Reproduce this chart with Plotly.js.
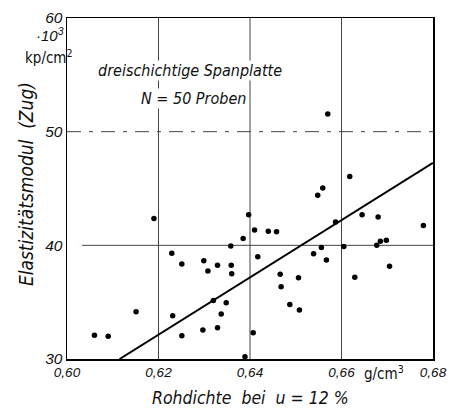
<!DOCTYPE html>
<html><head><meta charset="utf-8">
<script src="https://cdn.plot.ly/plotly-3.0.1.min.js"></script>
<style>html,body{margin:0;padding:0;background:#fff}#chart{width:450px;height:410px}</style>
</head><body><div id="chart"></div>
<script>
// Rohdichte (g/cm3) of the samples
const density = [0.6060,0.6090,0.6151,0.6190,0.6229,0.6231,0.6251,0.6251,0.6297,0.6299,
  0.6308,0.6320,0.6329,0.6329,0.6337,0.6348,0.6358,0.6359,0.6360,0.6385,
  0.6389,0.6397,0.6407,0.6410,0.6417,0.6440,0.6458,0.6466,0.6468,0.6487,
  0.6506,0.6508,0.6539,0.6548,0.6556,0.6559,0.6567,0.6570,0.6587,0.6605,
  0.6618,0.6629,0.6645,0.6677,0.6680,0.6685,0.6698,0.6705,0.6779];
// Elastizitätsmodul (10^3 kp/cm2)
const modulus = [32.1,32.0,34.15,42.35,39.3,33.8,38.35,32.05,32.55,38.65,
  37.75,35.15,38.25,32.75,33.95,34.95,39.95,38.25,37.5,40.6,
  30.2,42.7,32.3,41.35,39.0,41.25,41.2,37.45,36.35,34.8,
  37.15,34.3,39.25,44.4,39.8,45.05,38.7,51.55,42.05,39.9,
  46.05,37.2,42.7,40.0,42.5,40.35,40.45,38.15,41.75];
// regression line end points
const fitX = [0.6115, 0.68];
const fitY = [30, 47.25];
// ticks
const xTickVals = [0.60,0.62,0.64,0.66,0.68];
const xTickText = ["0,60","0,62","0,64","0,66","0,68"];
const yTickVals = [30,40,50,60];
const yTickText = ["30","40","50","60"];
const xGrid = [0.62,0.64,0.66];

const L = "'Liberation Sans',Arial,sans-serif";
const C = "'DejaVu Sans Condensed',sans-serif";
const it = (f,s)=>({family:f, size:s, color:'#111', style:'italic'});

const traces = [
  {x:fitX, y:fitY, mode:'lines', line:{color:'#000', width:2}, hoverinfo:'skip'},
  {x:density, y:modulus, mode:'markers', marker:{color:'#000', size:5.5}, cliponaxis:false}
];

const shapes = [
  {type:'line', xref:'x', yref:'y', x0:0.6033, x1:0.68, y0:40, y1:40, line:{color:'#444', width:1}, layer:'below'},
  {type:'line', xref:'x', yref:'y', x0:0.60, x1:0.68, y0:50, y1:50, line:{color:'#444', width:1, dash:'14px,8px,4px,8px'}, layer:'below'}
];

const annotations = [
  {xref:'paper', yref:'paper', x:0.337, y:0.845, text:'dreischichtige Spanplatte', showarrow:false, font:it(C,16), bgcolor:'#fff', xanchor:'center', yanchor:'middle', borderpad:0},
  {xref:'paper', yref:'paper', x:0.345, y:0.763, text:'N = 50 Proben', showarrow:false, font:it(C,16), bgcolor:'#fff', xanchor:'center', yanchor:'middle', borderpad:0},
  {xref:'paper', yref:'paper', x:-0.003, y:0.952, text:'·10<sup>3</sup>', showarrow:false, font:it(L,15), xanchor:'right', yanchor:'middle'},
  {xref:'paper', yref:'paper', x:0.022, y:0.886, text:'kp/cm<sup>2</sup>', showarrow:false, font:{family:C, size:15, color:'#111'}, xanchor:'right', yanchor:'middle'},
  {xref:'paper', yref:'paper', x:-0.112, y:0.513, text:'Elastizitätsmodul  (Zug)', textangle:-90, showarrow:false, font:it(C,19), xanchor:'center', yanchor:'middle'},
  {xref:'paper', yref:'paper', x:0.5, y:-0.114, text:'Rohdichte  bei  u = 12 %', showarrow:false, font:it(C,17.5), xanchor:'center', yanchor:'middle'},
  {xref:'paper', yref:'paper', x:0.925, y:-0.04, text:'g/cm<sup>3</sup>', showarrow:false, font:{family:C, size:15, color:'#111'}, xanchor:'right', yanchor:'middle'}
];

const layout = {
  width:450, height:410,
  margin:{l:67, r:17, t:18, b:51},
  paper_bgcolor:'#fff', plot_bgcolor:'#fff',
  showlegend:false,
  xaxis:{range:[0.60,0.68], tickvals:xTickVals, ticktext:xTickText, showgrid:false,
    showline:true, mirror:true, linecolor:'#000', linewidth:1.5, ticks:'', zeroline:false,
    tickfont:it(L,13.5), fixedrange:true},
  yaxis:{range:[30,60], tickvals:yTickVals, ticktext:yTickText, showgrid:false,
    showline:true, mirror:true, linecolor:'#000', linewidth:1.5, ticks:'', zeroline:false,
    tickfont:it(L,15.5), fixedrange:true},
  shapes: shapes.concat(xGrid.map(v=>({type:'line', xref:'x', yref:'paper', x0:v, x1:v, y0:0, y1:1, line:{color:'#444', width:1}, layer:'below'}))),
  annotations: annotations
};

Plotly.newPlot('chart', traces, layout, {staticPlot:true});
</script>
</body></html>
